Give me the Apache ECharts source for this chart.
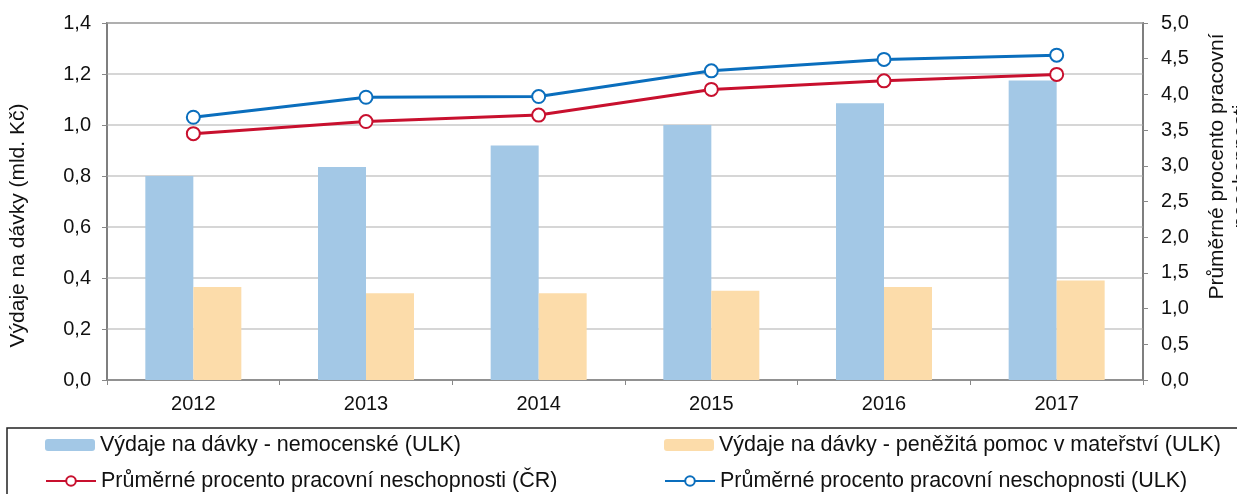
<!DOCTYPE html>
<html>
<head>
<meta charset="utf-8">
<script src="https://cdn.jsdelivr.net/npm/echarts@6/dist/echarts.min.js"></script>
<style>
  html, body { margin: 0; padding: 0; background: #fff; }
  #chart { width: 1237px; height: 494px; }
</style>
</head>
<body>
<div id="chart"></div>
<script>
const years = ['2012', '2013', '2014', '2015', '2016', '2017'];
// mld. Kč
const nemocenske = [0.80, 0.835, 0.92, 1.00, 1.085, 1.175];
const materstvi = [0.365, 0.34, 0.34, 0.35, 0.365, 0.39];
// %
const procentoCR = [3.45, 3.62, 3.71, 4.07, 4.19, 4.28];
const procentoULK = [3.68, 3.96, 3.97, 4.33, 4.49, 4.55];

const names = [
  'Výdaje na dávky - nemocenské (ULK)',
  'Výdaje na dávky - peněžitá pomoc v mateřství (ULK)',
  'Průměrné procento pracovní neschopnosti (ČR)',
  'Průměrné procento pracovní neschopnosti (ULK)'
];

const font = 'Liberation Sans, Arial, sans-serif';
const comma = v => v.toFixed(1).replace('.', ',');

const chart = echarts.init(document.getElementById('chart'));

function legendAt(name, left, top) {
  return {
    data: [name], left: left, top: top, padding: 0,
    itemWidth: 50, itemHeight: 12, itemGap: 5,
    textStyle: { fontFamily: font, fontSize: 21.5, color: '#111' },
    selectedMode: false
  };
}

chart.setOption({
  animation: false,
  textStyle: { fontFamily: font },
  grid: {
    left: 107, right: 94, top: 23, bottom: 114,
    outerBoundsMode: 'none', containLabel: false,
    show: true, borderColor: '#333', borderWidth: 1.5
  },
  legend: [
    legendAt(names[0], 45, 434),
    legendAt(names[1], 664, 434),
    legendAt(names[2], 45, 470),
    legendAt(names[3], 664, 470)
  ],
  graphic: [{
    type: 'rect',
    shape: { x: 7, y: 428, width: 1245, height: 90 },
    style: { fill: null, stroke: '#222', lineWidth: 1.5 },
    z: 0
  }],
  xAxis: {
    type: 'category', data: years,
    axisLine: { lineStyle: { color: '#888', width: 1.5 } },
    axisTick: { show: true, length: 5, lineStyle: { color: '#888' } },
    axisLabel: { fontSize: 20, color: '#111', margin: 14 }
  },
  yAxis: [{
    type: 'value', min: 0, max: 1.4, interval: 0.2,
    name: 'Výdaje na dávky (mld. Kč)',
    nameLocation: 'middle', nameGap: 78, nameRotate: 90,
    nameTextStyle: { fontSize: 21, color: '#111', padding: [0, 48, 0, 0] },
    axisLine: { show: true, lineStyle: { color: '#888', width: 1.5 } },
    axisTick: { show: true, length: 5, lineStyle: { color: '#888' } },
    axisLabel: { fontSize: 20, color: '#111', formatter: comma, margin: 16 },
    splitLine: { lineStyle: { color: '#c8c8c8', width: 1.5 } }
  }, {
    type: 'value', min: 0, max: 5, interval: 0.5,
    name: 'Průměrné procento pracovní\nneschopnosti',
    nameLocation: 'middle', nameGap: 62, nameRotate: 90,
    nameTextStyle: { fontSize: 21, color: '#111', lineHeight: 24, padding: [0, 0, 0, 70] },
    axisLine: { show: true, lineStyle: { color: '#888', width: 1.5 } },
    axisTick: { show: true, length: 5, lineStyle: { color: '#888' } },
    axisLabel: { fontSize: 20, color: '#111', formatter: comma, margin: 18 },
    splitLine: { show: false }
  }],
  series: [{
    name: names[0], type: 'bar', yAxisIndex: 0, data: nemocenske,
    barWidth: 48, barGap: '0%',
    itemStyle: { color: '#a3c8e6' }
  }, {
    name: names[1], type: 'bar', yAxisIndex: 0, data: materstvi,
    barWidth: 48,
    itemStyle: { color: '#fcdcaa' }
  }, {
    name: names[2], type: 'line', yAxisIndex: 1, data: procentoCR,
    symbol: 'circle', symbolSize: 13,
    lineStyle: { color: '#c8102e', width: 3 },
    itemStyle: { color: '#fff', borderColor: '#c8102e', borderWidth: 2 },
    z: 5
  }, {
    name: names[3], type: 'line', yAxisIndex: 1, data: procentoULK,
    symbol: 'circle', symbolSize: 13,
    lineStyle: { color: '#0a6ebd', width: 3 },
    itemStyle: { color: '#fff', borderColor: '#0a6ebd', borderWidth: 2 },
    z: 6
  }]
});
</script>
</body>
</html>
